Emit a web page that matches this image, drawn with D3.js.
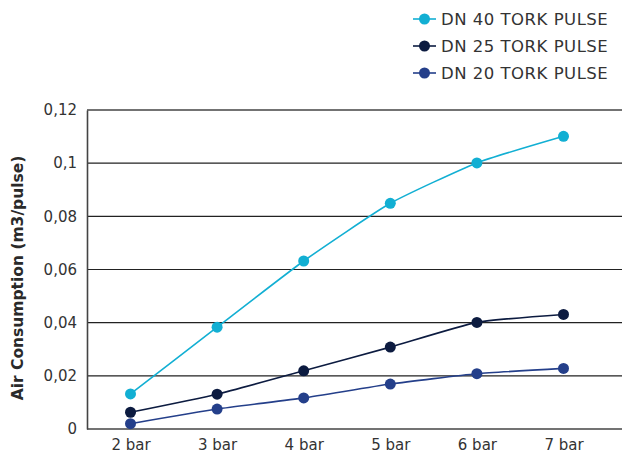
<!DOCTYPE html>
<html>
<head>
<meta charset="utf-8">
<script src="https://cdn.jsdelivr.net/npm/d3@7"></script>
<style>
  body { margin: 0; background: #fff; }
  svg { display: block; font-family: "DejaVu Sans", sans-serif; }
</style>
</head>
<body>
<svg id="chart" width="622" height="457"></svg>
<script>
// values
var categories = ["2 bar", "3 bar", "4 bar", "5 bar", "6 bar", "7 bar"];
var dn40 = [0.0132, 0.0383, 0.0632, 0.0849, 0.1001, 0.1101];
var dn25 = [0.0063, 0.0131, 0.0219, 0.0308, 0.0401, 0.0431];
var dn20 = [0.0020, 0.0075, 0.0117, 0.0169, 0.0208, 0.0228];
var yTicks = [0, 0.02, 0.04, 0.06, 0.08, 0.1, 0.12];
var seriesNames = ["DN 40 TORK PULSE", "DN 25 TORK PULSE", "DN 20 TORK PULSE"];

var colors = ["#12afd3", "#0c1b40", "#243f8a"];
var series = [dn40, dn25, dn20];

var svg = d3.select("#chart");
var plotLeft = 87, plotRight = 622, plotTop = 110, plotBottom = 429;

var x = d3.scalePoint()
    .domain(categories)
    .range([130.5, 563.5]);

var y = d3.scaleLinear()
    .domain([0, 0.12])
    .range([plotBottom, plotTop]);

var fmt = function(d) { return String(d).replace(".", ","); };

// gridlines
svg.append("g")
  .selectAll("line")
  .data(yTicks.filter(function(d) { return d > 0; }))
  .enter()
  .append("line")
    .attr("x1", plotLeft)
    .attr("x2", plotRight)
    .attr("y1", function(d) { return y(d); })
    .attr("y2", function(d) { return y(d); })
    .attr("stroke", function(d) { return d == 0.12 ? "#444" : "#222"; })
    .attr("stroke-width", function(d) { return d == 0.12 ? 1.6 : 1.2; });

// left axis
var yAxis = svg.append("g")
  .attr("transform", "translate(" + plotLeft + ",0)")
  .call(d3.axisLeft(y).tickValues(yTicks).tickFormat(fmt).tickSize(0).tickPadding(10));
yAxis.select(".domain").attr("stroke", "#444").attr("stroke-width", 1.6);
yAxis.selectAll("text")
  .attr("font-size", 15)
  .attr("fill", "#333")
  .attr("font-family", "DejaVu Sans, sans-serif");

// bottom axis
svg.append("line")
  .attr("x1", plotLeft).attr("x2", plotRight)
  .attr("y1", plotBottom).attr("y2", plotBottom)
  .attr("stroke", "#444").attr("stroke-width", 1.6);

var xAxis = svg.append("g")
  .attr("transform", "translate(0," + plotBottom + ")")
  .call(d3.axisBottom(x).tickSize(0).tickPadding(10));
xAxis.select(".domain").remove();
xAxis.selectAll("text")
  .attr("font-size", 15)
  .attr("fill", "#333")
  .attr("font-family", "DejaVu Sans, sans-serif");

// axis title
svg.append("text")
  .attr("transform", "translate(23," + 278 + ") rotate(-90)")
  .attr("text-anchor", "middle")
  .attr("font-size", 15.5)
  .attr("font-weight", "bold")
  .attr("fill", "#2a2a2a")
  .text("Air Consumption (m3/pulse)");

var line = d3.line()
  .x(function(d, i) { return x(categories[i]); })
  .y(function(d) { return y(d); })
  .curve(d3.curveCardinal.tension(0.5));

// draw lines from last to first so DN 40 sits on top
for (var s = series.length - 1; s >= 0; s--) {
  svg.append("path")
    .datum(series[s])
    .attr("d", line)
    .attr("fill", "none")
    .attr("stroke", colors[s])
    .attr("stroke-width", 1.6);

  svg.append("g")
    .selectAll("circle")
    .data(series[s])
    .enter()
    .append("circle")
      .attr("cx", function(d, i) { return x(categories[i]); })
      .attr("cy", function(d) { return y(d); })
      .attr("r", 5.5)
      .attr("fill", colors[s]);
}

// legend
var legend = svg.append("g");
seriesNames.forEach(function(name, i) {
  var ly = 19 + i * 27;
  legend.append("line")
    .attr("x1", 413).attr("x2", 436)
    .attr("y1", ly).attr("y2", ly)
    .attr("stroke", colors[i]).attr("stroke-width", 1.6);
  legend.append("circle")
    .attr("cx", 424.5).attr("cy", ly).attr("r", 5.5)
    .attr("fill", colors[i]);
  legend.append("text")
    .attr("x", 441).attr("y", ly + 6)
    .attr("font-size", 16.5)
    .attr("letter-spacing", 0.5)
    .attr("fill", "#333")
    .text(name);
});
</script>
</body>
</html>
